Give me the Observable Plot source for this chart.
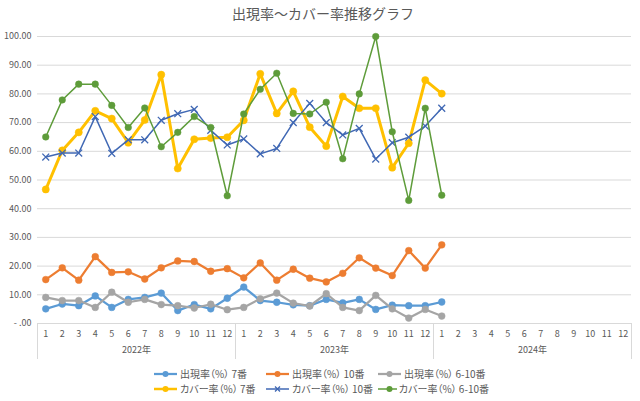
<!DOCTYPE html>
<html>
<head>
<meta charset="utf-8">
<script src="https://cdn.jsdelivr.net/npm/d3@7"></script>
<script src="https://cdn.jsdelivr.net/npm/@observablehq/plot@0.6"></script>
<style>
  html, body { margin: 0; padding: 0; background: #fff; }
  body { width: 640px; height: 401px; overflow: hidden; font-family: "Noto Sans CJK JP", "Noto Sans", sans-serif; color: #595959; }
  #title { height: 26px; line-height: 26px; text-align: center; font-size: 14px; color: #595959; padding-left: 6px; }
  #chart svg { display: block; }
  #legend { display: grid; grid-template-columns: 112px 112px 112px; padding-left: 153px; margin-top: 1px; }
  .item { display: flex; align-items: center; height: 15px; font-size: 10px; white-space: nowrap; font-feature-settings: "palt"; }
  .item svg { margin-right: 2px; }
</style>
</head>
<body>
<div id="title">出現率～カバー率推移グラフ</div>
<div id="chart"></div>
<div id="legend"></div>
<script>
// ---- data ----
const monthLabels = ["1","2","3","4","5","6","7","8","9","10","11","12",
                     "1","2","3","4","5","6","7","8","9","10","11","12",
                     "1","2","3","4","5","6","7","8","9","10","11","12"];
const yearLabels = ["2022年", "2023年", "2024年"];
const yTicks = [0, 10, 20, 30, 40, 50, 60, 70, 80, 90, 100];

const seriesNames = ["出現率（%） 7番", "出現率（%） 10番", "出現率（%） 6-10番",
                     "カバー率（%） 7番", "カバー率（%） 10番", "カバー率（%） 6-10番"];

const appear7 = [5.1, 6.8, 6.2, 9.6, 5.6, 8.4, 9.1, 10.6, 4.5, 6.6, 5.1, 8.8,
                 12.7, 8.0, 7.4, 6.5, 6.2, 8.4, 7.2, 8.4, 4.9, 6.4, 6.2, 6.2,
                 7.5];
const appear10 = [15.3, 19.4, 15.1, 23.3, 17.8, 18.0, 15.5, 19.4, 21.8, 21.6, 18.2, 19.1,
                  15.9, 21.1, 15.1, 18.9, 15.8, 14.5, 17.5, 22.9, 19.3, 16.7, 25.4, 19.3,
                  27.4];
const appear610 = [9.1, 8.0, 8.0, 5.6, 10.9, 7.4, 8.4, 6.6, 6.2, 5.4, 6.7, 4.8,
                   5.6, 8.6, 10.6, 7.1, 6.1, 10.4, 5.6, 4.5, 9.8, 5.1, 1.9, 4.9,
                   2.6];
const cover7 = [46.7, 60.3, 66.6, 74.1, 71.4, 63.0, 70.9, 86.7, 54.0, 64.2, 64.6, 64.9,
                70.8, 87.0, 73.2, 80.9, 68.4, 61.8, 79.1, 75.0, 75.0, 54.3, 62.8, 84.8,
                80.1];
const cover10 = [58.0, 59.4, 59.4, 72.1, 59.3, 64.0, 64.0, 70.8, 73.1, 74.6, 67.3, 62.2,
                 64.3, 59.1, 61.0, 70.0, 76.7, 70.0, 65.7, 68.0, 57.3, 63.0, 64.9, 68.8,
                 75.0];
const cover610 = [65.0, 77.9, 83.4, 83.4, 76.0, 68.3, 75.1, 61.6, 66.6, 72.1, 68.3, 44.5,
                  73.0, 81.6, 87.2, 73.2, 73.0, 77.1, 57.4, 80.0, 100.0, 66.8, 42.9, 75.0,
                  44.7];

// ---- styles ----
const styles = [
  {color: "#5B9BD5", width: 2.25, symbol: "circle", r: 3.4, values: appear7},
  {color: "#ED7D31", width: 2.25, symbol: "circle", r: 3.4, values: appear10},
  {color: "#A5A5A5", width: 2.25, symbol: "circle", r: 3.4, values: appear610},
  {color: "#FFC000", width: 3, symbol: "circle", r: 3.6, values: cover7},
  {color: "#4068B4", width: 1.5, symbol: "times", r: 3.2, values: cover10},
  {color: "#5E9C3A", width: 1.5, symbol: "circle", r: 3.3, values: cover610}
];

const marks = [
  Plot.gridY(yTicks, {stroke: "#d9d9d9", strokeOpacity: 1, strokeWidth: 1}),
  Plot.axisY(yTicks, {label: null, tickSize: 0, tickPadding: 6, fontSize: 9, fill: "#595959",
    tickFormat: d => d === 0 ? "- .00" : d.toFixed(2)}),
  Plot.axisX(d3.range(monthLabels.length), {label: null, tickSize: 0, tickPadding: 7, fontSize: 9, fill: "#595959",
    tickFormat: i => monthLabels[i]}),
  Plot.axisX(yearLabels.map((_, k) => k * 12 + 5.5), {label: null, tickSize: 0, tickPadding: 23, fontSize: 9, fill: "#595959",
    tickFormat: (d, k) => yearLabels[k]}),
  Plot.axisX(d3.range(yearLabels.length + 1).map(k => k * 12 - 0.5), {label: null, tickSize: 36, stroke: "#d9d9d9", strokeOpacity: 1,
    tickFormat: () => ""})
];

styles.forEach(s => {
  const data = s.values.map((v, i) => ({i, v}));
  marks.push(Plot.line(data, {x: "i", y: "v", stroke: s.color, strokeWidth: s.width,
    strokeLinejoin: "round", strokeLinecap: "round"}));
  if (s.symbol === "times") {
    marks.push(Plot.dot(data, {x: "i", y: "v", symbol: "times", r: s.r, stroke: s.color, strokeWidth: 1.3}));
  } else {
    marks.push(Plot.dot(data, {x: "i", y: "v", symbol: "circle", r: s.r, fill: s.color, stroke: s.color, strokeWidth: 0.5}));
  }
});

const chart = Plot.plot({
  width: 640,
  height: 339,
  marginTop: 10,
  marginBottom: 42,
  marginLeft: 37,
  marginRight: 9,
  style: {fontFamily: "'Noto Sans CJK JP', 'Noto Sans', sans-serif", color: "#595959", background: "#fff"},
  x: {type: "linear", domain: [-0.5, monthLabels.length - 0.5], axis: null},
  y: {domain: [0, 100], axis: null},
  marks
});
document.getElementById("chart").appendChild(chart);

// ---- legend ----
const legend = document.getElementById("legend");
seriesNames.forEach((name, k) => {
  const s = styles[k];
  const item = document.createElement("div");
  item.className = "item";
  const ns = "http://www.w3.org/2000/svg";
  const sw = document.createElementNS(ns, "svg");
  sw.setAttribute("width", 25); sw.setAttribute("height", 10);
  const ln = document.createElementNS(ns, "line");
  ln.setAttribute("x1", 1); ln.setAttribute("x2", 24); ln.setAttribute("y1", 5); ln.setAttribute("y2", 5);
  ln.setAttribute("stroke", s.color); ln.setAttribute("stroke-width", Math.min(s.width, 2.5));
  sw.appendChild(ln);
  if (s.symbol === "times") {
    const p = document.createElementNS(ns, "path");
    p.setAttribute("d", "M10,2.5L15,7.5M15,2.5L10,7.5");
    p.setAttribute("stroke", s.color); p.setAttribute("stroke-width", 1.3);
    sw.appendChild(p);
  } else {
    const c = document.createElementNS(ns, "circle");
    c.setAttribute("cx", 12.5); c.setAttribute("cy", 5); c.setAttribute("r", 3);
    c.setAttribute("fill", s.color);
    sw.appendChild(c);
  }
  item.appendChild(sw);
  const t = document.createElement("span");
  t.textContent = name;
  item.appendChild(t);
  legend.appendChild(item);
});
</script>
</body>
</html>
